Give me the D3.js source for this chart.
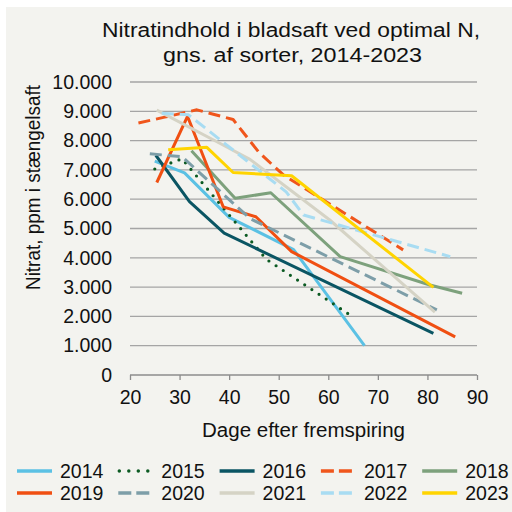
<!DOCTYPE html>
<html>
<head>
<meta charset="utf-8">
<script src="https://cdn.jsdelivr.net/npm/d3@7"></script>
<style>
  body { margin: 0; background: #fff; }
  text { font-family: "Liberation Sans", Arial, sans-serif; fill: #111; }
</style>
</head>
<body>
<div id="chart"></div>
<script>
// --- Data (days after emergence, nitrate ppm) ---
const years = ["2014", "2015", "2016", "2017", "2018", "2019", "2020", "2021", "2022", "2023"];
const s2014 = [[25, 7300], [31, 6900], [40, 5380], [53, 4280], [67.3, 1000]];
const s2015 = [[25, 7030], [30.5, 7380], [47.5, 3950], [64.2, 2070]];
const s2016 = [[25.2, 7500], [32, 5920], [39, 4840], [81.2, 1420]];
const s2017 = [[21.7, 8600], [27, 8800], [33.5, 9050], [40.8, 8720], [46, 7600], [51, 6820], [75.1, 4270]];
const s2018 = [[32.4, 7650], [41.2, 6030], [48.4, 6220], [62.4, 4040], [80.5, 3070], [87, 2790]];
const s2019 = [[25.4, 6570], [31.6, 8830], [38.8, 5740], [45.4, 5400], [52.6, 4210], [85.6, 1300]];
const s2020 = [[24, 7550], [30.5, 7450], [44.2, 5340], [81.9, 2220]];
const s2021 = [[25.4, 9040], [38.2, 7900], [44.2, 7360], [60.3, 5290], [81.5, 2150]];
const s2022 = [[26.4, 8930], [31.8, 8880], [51.5, 6250], [55, 5460], [84.6, 4040]];
const s2023 = [[27.7, 7690], [35.5, 7770], [40.8, 6910], [52.6, 6800], [81.2, 2990]];
const seriesData = [s2014, s2015, s2016, s2017, s2018, s2019, s2020, s2021, s2022, s2023];

const xTicks = [20, 30, 40, 50, 60, 70, 80, 90];
const yTicks = [0, 1000, 2000, 3000, 4000, 5000, 6000, 7000, 8000, 9000, 10000];

// line styles per year
const colors = ["#5bc1e4", "#0b5a22", "#0a5563", "#f0561c", "#7da17c",
                "#f04f12", "#7d9ea8", "#d5d3c5", "#a8dcf2", "#ffd400"];
const dashes = [null, "0 8.6", null, "12 6", null, null, "12 6", null, "12 6", null];

const W = 512, H = 512;
const svg = d3.select("#chart").append("svg")
  .attr("width", W).attr("height", H);

svg.append("rect")
  .attr("x", 6).attr("y", 7)
  .attr("width", W - 6).attr("height", H - 7)
  .attr("fill", "#f3f3ef");

const x = d3.scaleLinear().domain([20, 90]).range([130, 477]);
const y = d3.scaleLinear().domain([0, 10000]).range([375, 82]);

// Title (stretched a bit wider like the original)
const title = svg.append("g")
  .attr("font-size", "20px");
title.append("text").attr("x", 102).attr("y", 37)
  .attr("textLength", 378).attr("lengthAdjust", "spacingAndGlyphs")
  .text("Nitratindhold i bladsaft ved optimal N,");
title.append("text").attr("x", 163).attr("y", 62)
  .attr("textLength", 259).attr("lengthAdjust", "spacingAndGlyphs")
  .text("gns. af sorter, 2014-2023");

// Gridlines
svg.append("g")
  .selectAll("line")
  .data(yTicks.filter(d => d > 0))
  .join("line")
  .attr("x1", x(20)).attr("x2", x(90))
  .attr("y1", d => y(d)).attr("y2", d => y(d))
  .attr("stroke", "#a5a5a5")
  .attr("stroke-width", 1.3);

// Y axis labels
const fmt = d => d3.format(",")(d).replace(/,/g, ".");
svg.append("g")
  .attr("transform", `translate(${x(20) - 18},0)`)
  .call(d3.axisLeft(y).tickValues(yTicks).tickFormat(fmt).tickSize(0))
  .call(g => g.select(".domain").remove())
  .call(g => g.selectAll("text")
    .attr("font-size", "19.5px")
    .attr("font-family", "Liberation Sans, Arial, sans-serif")
    .attr("fill", "#111")
    .attr("x", 0));

// X axis
svg.append("g")
  .attr("transform", `translate(0,${y(0)})`)
  .call(d3.axisBottom(x).tickValues(xTicks).tickSize(5).tickPadding(10))
  .call(g => g.select(".domain").attr("stroke", "#8c8c8c").attr("stroke-width", 1.3)
    .attr("d", `M${x(20)},0H${x(90)}`))
  .call(g => g.selectAll(".tick line").attr("stroke", "#8c8c8c").attr("stroke-width", 1.3))
  .call(g => g.selectAll("text")
    .attr("font-size", "19.5px")
    .attr("font-family", "Liberation Sans, Arial, sans-serif")
    .attr("fill", "#111"));

// Axis titles
svg.append("text")
  .attr("x", 202).attr("y", 437)
  .attr("font-size", "20px")
  .attr("textLength", 203).attr("lengthAdjust", "spacingAndGlyphs")
  .text("Dage efter fremspiring");

svg.append("text")
  .attr("transform", "translate(40,290) rotate(-90)")
  .attr("font-size", "19.5px")
  .attr("textLength", 205).attr("lengthAdjust", "spacingAndGlyphs")
  .text("Nitrat, ppm i stængelsaft");

// Lines
const line = d3.line()
  .x(d => x(d[0]))
  .y(d => y(d[1]));

seriesData.forEach((s, i) => {
  svg.append("path")
    .datum(s)
    .attr("fill", "none")
    .attr("stroke", colors[i])
    .attr("stroke-width", i === 1 ? 3.2 : 3)
    .attr("stroke-linecap", i === 1 ? "round" : "butt")
    .attr("stroke-linejoin", "round")
    .attr("stroke-dasharray", dashes[i])
    .attr("d", line);
});

// Legend
const legend = svg.append("g");
const item = legend.selectAll("g")
  .data(years)
  .join("g")
  .attr("transform", (d, i) => `translate(${17 + (i % 5) * 101.3},${i < 5 ? 471 : 493})`);

item.append("line")
  .attr("x1", 0).attr("x2", 35)
  .attr("stroke", (d, i) => colors[i])
  .attr("stroke-width", 3.5)
  .attr("stroke-linecap", (d, i) => i === 1 ? "round" : "butt")
  .attr("stroke-dasharray", (d, i) => i === 1 ? "0 9.5" : (dashes[i] ? "13 5" : null))
  .attr("transform", (d, i) => i === 1 ? "translate(1,0)" : null);

item.append("text")
  .attr("x", 43)
  .attr("y", 7)
  .attr("font-size", "19.5px")
  .text(d => d);
</script>
</body>
</html>
